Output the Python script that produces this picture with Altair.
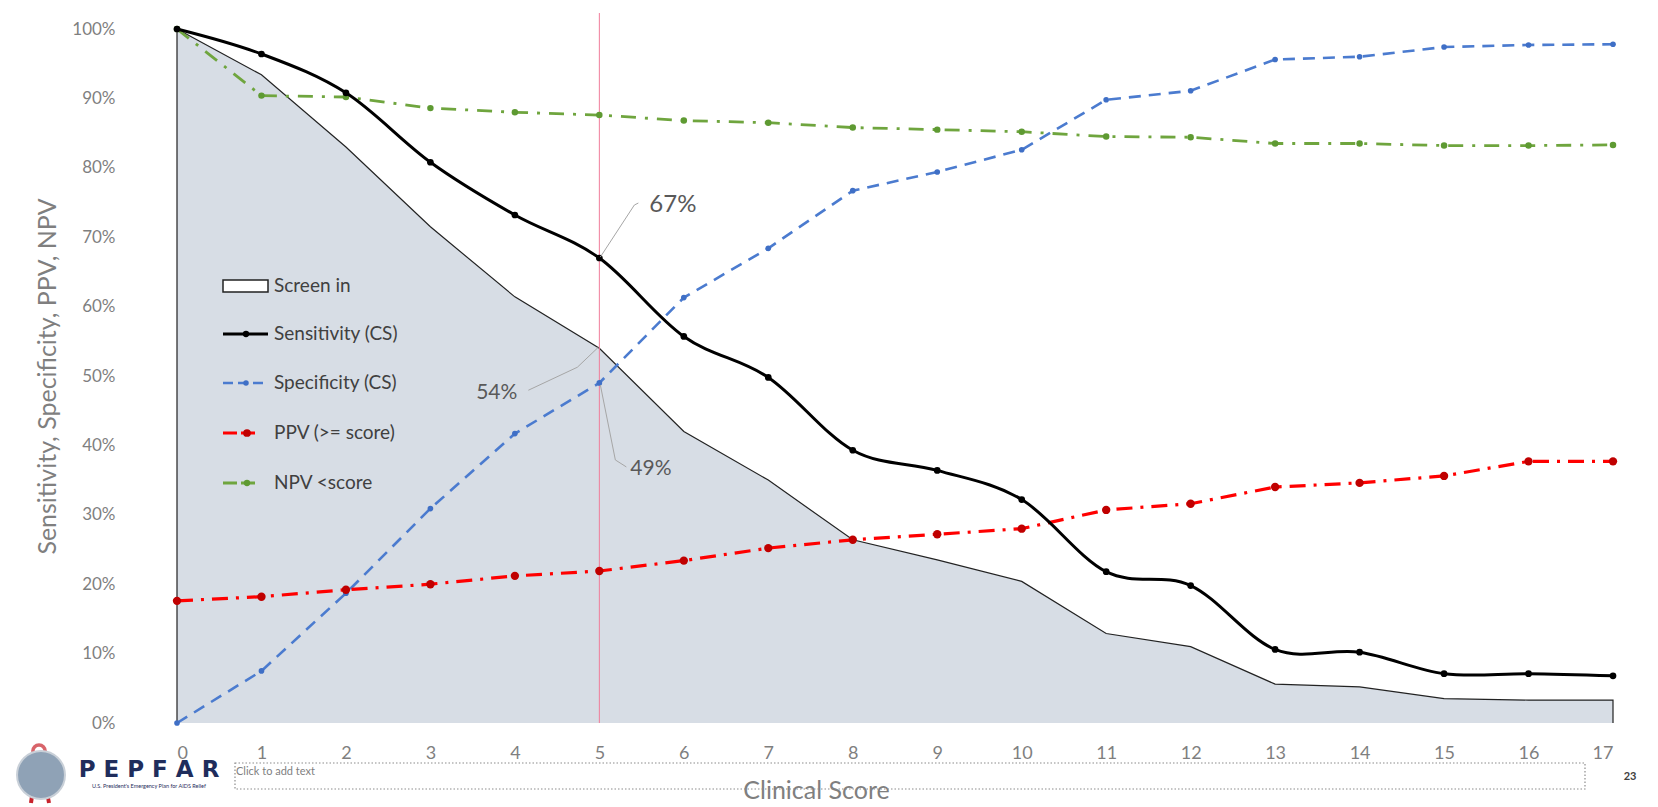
import altair as alt
import pandas as pd

# Clinical score thresholds and the screening metrics at each cut-off (%)
scores = list(range(18))
screen_in = [100, 93.4, 83.0, 71.5, 61.4, 54, 42.0, 35.0, 26.4, 23.5, 20.4, 12.9, 11.0, 5.6, 5.2, 3.5, 3.3, 3.3]
sensitivity = [100, 96.4, 90.8, 80.8, 73.2, 67, 55.7, 49.8, 39.3, 36.4, 32.2, 21.8, 19.8, 10.6, 10.2, 7.1, 7.1, 6.8]
specificity = [0, 7.5, 18.7, 30.9, 41.7, 49, 61.3, 68.4, 76.7, 79.4, 82.6, 89.8, 91.1, 95.6, 96.0, 97.4, 97.7, 97.8]
ppv = [17.6, 18.2, 19.2, 20.0, 21.2, 21.9, 23.4, 25.2, 26.4, 27.2, 28.0, 30.7, 31.6, 34.0, 34.6, 35.6, 37.7, 37.7]
npv = [100, 90.4, 90.2, 88.6, 88.0, 87.6, 86.8, 86.5, 85.8, 85.5, 85.2, 84.5, 84.4, 83.5, 83.5, 83.2, 83.2, 83.3]

y_ticks = list(range(0, 101, 10))
cutoff = 5

legend_labels = ["Screen in", "Sensitivity (CS)", "Specificity (CS)", "PPV (>= score)", "NPV <score"]

FONT = "Lato"
W, H = 1436, 694

x_scale = alt.Scale(domain=[0, 17], nice=False, zero=False)
y_scale = alt.Scale(domain=[0, 100], nice=False)

X = alt.X(
    "score:Q", scale=x_scale,
    axis=alt.Axis(
        values=scores, ticks=False, domain=False, grid=False,
        labelFont=FONT, labelFontSize=18, labelColor="#7F7F7F",
        labelPadding=30, labelBaseline="middle",
        title="Clinical Score", titleFont=FONT, titleFontSize=25,
        titleFontWeight="normal", titleColor="#7F7F7F",
        titleX=639, titleY=67, titleBaseline="middle", titleAlign="center",
    ),
)
Y = alt.Y(
    "value:Q", scale=y_scale,
    axis=alt.Axis(
        values=y_ticks, labelExpr="datum.value + '%'", ticks=False, domain=False, grid=False,
        labelFont=FONT, labelFontSize=17, labelColor="#7F7F7F", labelPadding=62,
        title="Sensitivity, Specificity, PPV, NPV", titleFont=FONT, titleFontSize=25,
        titleFontWeight="normal", titleColor="#7F7F7F",
        titleX=-130, titleY=H / 2, titleAngle=-90, titleBaseline="middle", titleAlign="center",
    ),
)

df_screen = pd.DataFrame({"score": scores, "value": screen_in})
area = alt.Chart(df_screen).mark_area(color="#D7DDE5", opacity=1, interpolate="linear").encode(x=X, y=Y)

# Border of the screened-in region, closed down to the baseline at both ends
outline_df = pd.DataFrame({
    "score": [scores[0]] + scores + [scores[-1]],
    "value": [0] + screen_in + [0],
    "order": list(range(len(scores) + 2)),
})
outline = alt.Chart(outline_df).mark_line(color="#222222", strokeWidth=1.2).encode(
    x=X, y=Y, order="order:Q"
)

series = [
    # values, line colour, marker colour, dash, width, marker size, interpolation
    (specificity, "#4B7BCF", "#3F6FC6", [12, 8], 2.6, 32, "linear"),
    (ppv, "#FF0000", "#C00000", [16, 8, 3, 8], 3.2, 70, "linear"),
    (npv, "#6FA53E", "#5E9A32", [15, 9, 3, 9], 2.8, 42, "linear"),
    (sensitivity, "#000000", "#000000", None, 3.0, 45, "cardinal"),
]

layers = [area, outline]
for vals, lc, mc, dash, sw, ms, interp in series:
    d = pd.DataFrame({"score": scores, "value": vals})
    line_kw = dict(color=lc, strokeWidth=sw, interpolate=interp)
    if dash:
        line_kw["strokeDash"] = dash
    layers.append(alt.Chart(d).mark_line(**line_kw).encode(x=X, y=Y))
    layers.append(alt.Chart(d).mark_point(filled=True, color=mc, size=ms, opacity=1).encode(x=X, y=Y))

# Vertical marker at the chosen cut-off score
rule = alt.Chart(pd.DataFrame({"score": [cutoff]})).mark_rule(
    color="#F07C9A", strokeWidth=1
).encode(x=X, y=alt.value(-16), y2=alt.value(H))
layers.insert(2, rule)

# Value call-outs at the cut-off, each with a leader line
def callout(value, segs, dx, dy, align, size):
    d = pd.DataFrame({"score": [cutoff], "value": [value], "label": [f"{round(value)}%"]})
    out = []
    for (x0, y0, x1, y1) in segs:
        out.append(alt.Chart(d).mark_rule(
            color="#A6A6A6", strokeWidth=1,
            xOffset=x0, yOffset=y0, x2Offset=x1, y2Offset=y1,
        ).encode(x=X, y=Y, x2="score:Q", y2="value:Q"))
    out.append(alt.Chart(d).mark_text(
        dx=dx, dy=dy, align=align, baseline="middle", font=FONT,
        fontSize=size, color="#595959",
    ).encode(x=X, y=Y, text="label:N"))
    return out

layers += callout(sensitivity[cutoff], [(1, -1, 35, -53), (35, -53, 39, -55)], 50, -53, "left", 24)
layers += callout(screen_in[cutoff], [(-1, -1, -22, 19), (-22, 19, -71, 42)], -82, 45, "right", 21)
layers += callout(specificity[cutoff], [(1, 2, 16, 77), (16, 77, 27, 84)], 31, 86, "left", 21)

# Legend drawn inside the plot area
one = pd.DataFrame({"k": [0]})
base = alt.Chart(one)
row_y = [257, 305, 354, 404, 454]
sym_x0, sym_x1, txt_x = 46, 91, 97

layers.append(base.mark_rect(fill="#FFFFFF", stroke="#222222", strokeWidth=1.5).encode(
    x=alt.value(sym_x0), x2=alt.value(sym_x1), y=alt.value(row_y[0] - 6), y2=alt.value(row_y[0] + 6)))
leg_lines = [
    (row_y[1], "#000000", "#000000", None, 3.0, 40, sym_x1, 69),
    (row_y[2], "#4B7BCF", "#3F6FC6", [10, 5], 2.6, 30, sym_x1, 69),
    (row_y[3], "#FF0000", "#C00000", [14, 4], 3.2, 60, 80, 70),
    (row_y[4], "#6FA53E", "#5E9A32", [14, 4], 2.8, 40, 80, 70),
]
for yy, lc, mc, dash, sw, ms, xe, xm in leg_lines:
    kw = dict(color=lc, strokeWidth=sw)
    if dash:
        kw["strokeDash"] = dash
    layers.append(base.mark_rule(**kw).encode(x=alt.value(sym_x0), x2=alt.value(xe), y=alt.value(yy)))
    layers.append(base.mark_point(filled=True, color=mc, size=ms, opacity=1).encode(
        x=alt.value(xm), y=alt.value(yy)))
for yy, lab in zip(row_y, legend_labels):
    layers.append(base.mark_text(align="left", baseline="middle", font=FONT, fontSize=19,
                                 color="#404040", text=lab).encode(x=alt.value(txt_x), y=alt.value(yy)))

# Slide footer: logo, placeholder box and page number
layers.append(base.mark_rule(color="#C8232C", strokeWidth=4).encode(
    x=alt.value(-139), y=alt.value(725), x2=alt.value(-146), y2=alt.value(774)))
layers.append(base.mark_rule(color="#C8232C", strokeWidth=4).encode(
    x=alt.value(-137), y=alt.value(725), x2=alt.value(-128), y2=alt.value(774)))
layers.append(base.mark_point(shape="circle", filled=False, color="#C8232C", strokeWidth=3.5, size=150).encode(
    x=alt.value(-138), y=alt.value(722)))
layers.append(base.mark_point(shape="circle", filled=True, color="#8FA2B6", opacity=1, size=2300,
                              stroke="#C9D0D8", strokeWidth=2).encode(x=alt.value(-136), y=alt.value(746)))
layers.append(base.mark_text(align="center", baseline="middle", font="DejaVu Sans", fontWeight="bold",
                             fontSize=23, color="#1F2D5C", text="P E P F A R").encode(
    x=alt.value(-28), y=alt.value(741)))
layers.append(base.mark_text(align="center", baseline="middle", font=FONT, fontSize=5.5,
                             color="#1F2D5C",
                             text="U.S. President's Emergency Plan for AIDS Relief").encode(
    x=alt.value(-28), y=alt.value(757)))
layers.append(base.mark_rect(fill="transparent", stroke="#8C8C8C", strokeWidth=1.2,
                             strokeDash=[1.5, 2]).encode(
    x=alt.value(58), x2=alt.value(1408), y=alt.value(734), y2=alt.value(760)))
layers.append(base.mark_text(align="left", baseline="middle", font=FONT, fontSize=11,
                             color="#7F7F7F", text="Click to add text").encode(
    x=alt.value(59), y=alt.value(743)))
layers.append(base.mark_text(align="center", baseline="middle", font=FONT, fontSize=11,
                             fontWeight="bold", color="#404040", text="23").encode(
    x=alt.value(1453), y=alt.value(748)))

chart = alt.layer(*layers).properties(
    width=W, height=H,
    autosize=alt.AutoSizeParams(type="none"),
    padding={"left": 177, "top": 29, "right": 45, "bottom": 84},
    background="#FFFFFF",
).configure_view(stroke=None)

chart.save("out.html", embed_options={"renderer": "svg", "actions": False})
